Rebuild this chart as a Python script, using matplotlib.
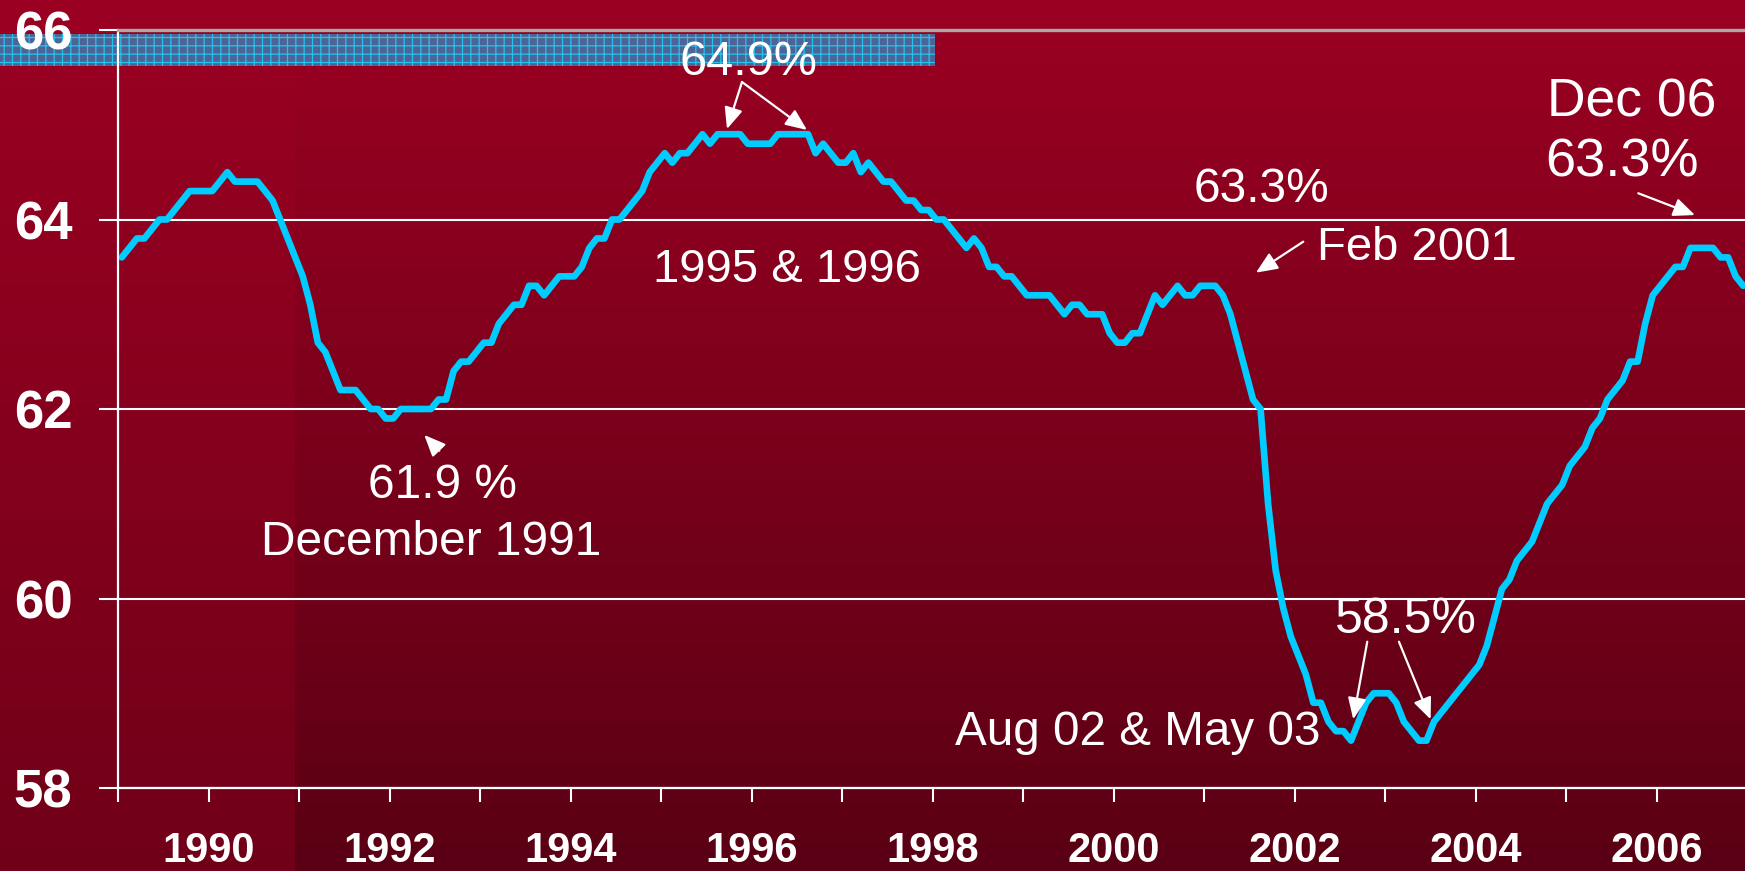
import numpy as np
import matplotlib
matplotlib.use("Agg")
import matplotlib.pyplot as plt
from matplotlib.patches import Rectangle

plt.rcParams['font.family'] = ['Liberation Sans', 'DejaVu Sans']
plt.rcParams['hatch.linewidth'] = 0.9

# monthly values, Jan..Dec of each year
y1989 = [63.6, 63.7, 63.8, 63.8, 63.9, 64.0, 64.0, 64.1, 64.2, 64.3, 64.3, 64.3]
y1990 = [64.3, 64.4, 64.5, 64.4, 64.4, 64.4, 64.4, 64.3, 64.2, 64.0, 63.8, 63.6]
y1991 = [63.4, 63.1, 62.7, 62.6, 62.4, 62.2, 62.2, 62.2, 62.1, 62.0, 62.0, 61.9]
y1992 = [61.9, 62.0, 62.0, 62.0, 62.0, 62.0, 62.1, 62.1, 62.4, 62.5, 62.5, 62.6]
y1993 = [62.7, 62.7, 62.9, 63.0, 63.1, 63.1, 63.3, 63.3, 63.2, 63.3, 63.4, 63.4]
y1994 = [63.4, 63.5, 63.7, 63.8, 63.8, 64.0, 64.0, 64.1, 64.2, 64.3, 64.5, 64.6]
y1995 = [64.7, 64.6, 64.7, 64.7, 64.8, 64.9, 64.8, 64.9, 64.9, 64.9, 64.9, 64.8]
y1996 = [64.8, 64.8, 64.8, 64.9, 64.9, 64.9, 64.9, 64.9, 64.7, 64.8, 64.7, 64.6]
y1997 = [64.6, 64.7, 64.5, 64.6, 64.5, 64.4, 64.4, 64.3, 64.2, 64.2, 64.1, 64.1]
y1998 = [64.0, 64.0, 63.9, 63.8, 63.7, 63.8, 63.7, 63.5, 63.5, 63.4, 63.4, 63.3]
y1999 = [63.2, 63.2, 63.2, 63.2, 63.1, 63.0, 63.1, 63.1, 63.0, 63.0, 63.0, 62.8]
y2000 = [62.7, 62.7, 62.8, 62.8, 63.0, 63.2, 63.1, 63.2, 63.3, 63.2, 63.2, 63.3]
y2001 = [63.3, 63.3, 63.2, 63.0, 62.7, 62.4, 62.1, 62.0, 61.0, 60.3, 59.9, 59.6]
y2002 = [59.4, 59.2, 58.9, 58.9, 58.7, 58.6, 58.6, 58.5, 58.7, 58.9, 59.0, 59.0]
y2003 = [59.0, 58.9, 58.7, 58.6, 58.5, 58.5, 58.7, 58.8, 58.9, 59.0, 59.1, 59.2]
y2004 = [59.3, 59.5, 59.8, 60.1, 60.2, 60.4, 60.5, 60.6, 60.8, 61.0, 61.1, 61.2]
y2005 = [61.4, 61.5, 61.6, 61.8, 61.9, 62.1, 62.2, 62.3, 62.5, 62.5, 62.9, 63.2]
y2006 = [63.3, 63.4, 63.5, 63.5, 63.7, 63.7, 63.7, 63.7, 63.6, 63.6, 63.4, 63.3]

start_year = 1989
year_ticks = list(range(1989, 2008))
year_labels = [str(y) if y % 2 == 0 else '' for y in year_ticks]
y_ticks = [58, 60, 62, 64, 66]

values = np.array(y1989 + y1990 + y1991 + y1992 + y1993 + y1994 + y1995 + y1996 + y1997
                  + y1998 + y1999 + y2000 + y2001 + y2002 + y2003 + y2004 + y2005 + y2006)
months = start_year + (np.arange(len(values)) + 0.5) / 12

W, H = 1745, 871
fig = plt.figure(figsize=(W / 100, H / 100), dpi=100)

# background gradient (left strip slightly lighter at the bottom)
t = np.linspace(0, 1, H)[:, None]
top = np.array([155, 0, 34]) / 255
bot_r = np.array([90, 0, 20]) / 255
bot_l = np.array([112, 0, 24]) / 255
img = np.empty((H, W, 3), dtype=np.float32)
img[:, 295:, :] = (top + (bot_r - top) * t)[:, None, :]
img[:, :295, :] = (top + (bot_l - top) * t)[:, None, :]
bg = fig.add_axes([0, 0, 1, 1], zorder=-2)
bg.imshow(img, aspect='auto', extent=[0, 1, 0, 1], interpolation='nearest')
bg.axis('off')

fig.patches.append(Rectangle((0, 1 - 66 / H), 935 / W, 32 / H, transform=fig.transFigure,
                             facecolor='#4d6496', edgecolor='#22c4ee', lw=0,
                             hatch='++', zorder=-1))

ax = fig.add_axes([118 / W, 83 / H, 1629 / W, 758 / H], zorder=0)
ax.set_facecolor('none')
ax.plot(months, values, color='#00ccff', lw=4.8, solid_joinstyle='round', solid_capstyle='round')

ax.set_xlim(1989, 2007)
ax.set_ylim(58, 66)
ax.set_xticks(year_ticks)
ax.set_xticklabels(year_labels, fontsize=30, fontweight='bold', color='white')
ax.set_yticks(y_ticks)
ax.set_yticklabels([str(v) for v in y_ticks], fontsize=38, fontweight='bold', color='white')
ax.tick_params(axis='x', direction='out', length=10, width=1.5, colors='white', pad=21)
ax.tick_params(axis='y', direction='out', length=13.7, width=1.5, colors='white', pad=19)
ax.set_axisbelow(True)
ax.yaxis.grid(True, color='white', lw=1.5)
for s in ['left', 'bottom']:
    ax.spines[s].set_color('white')
    ax.spines[s].set_linewidth(1.6)
ax.spines['right'].set_visible(False)
ax.spines['top'].set_color('#a8a8a8')
ax.spines['top'].set_linewidth(2.4)

txt = dict(color='white', va='baseline')
ax.text(1995.972, 65.525, '64.9%', ha='center', fontsize=35, **txt)
ax.text(1996.389, 63.340, '1995 & 1996', ha='center', fontsize=34, **txt)
ax.text(1992.591, 61.061, '61.9 %', ha='center', fontsize=34.5, **txt)
ax.text(1992.466, 60.459, 'December 1991', ha='center', fontsize=34.5, **txt)
ax.text(2001.630, 64.185, '63.3%', ha='center', fontsize=34.5, **txt)
ax.text(2002.249, 63.573, 'Feb 2001', ha='left', fontsize=34, **txt)
ax.text(2005.729, 65.092, 'Dec 06', ha='center', fontsize=38.5, **txt)
ax.text(2005.619, 64.459, '63.3%', ha='center', fontsize=39, **txt)
ax.text(2003.232, 59.636, '58.5%', ha='center', fontsize=36, **txt)
ax.text(2002.282, 58.454, 'Aug 02 & May 03', ha='right', fontsize=34.3, **txt)

arrow = dict(arrowstyle='-|>,head_length=0.65,head_width=0.28', color='white', lw=1.6,
             shrinkA=0, shrinkB=0, mutation_scale=20)
arrows = [
    ((1995.895, 65.451), (1995.729, 64.955)),
    ((1995.895, 65.451), (1996.613, 64.945)),
    ((1992.550, 61.560), (1992.384, 61.726)),
    ((2002.097, 63.766), (2001.574, 63.439)),
    ((2005.799, 64.277), (2006.425, 64.047)),
    ((2002.804, 59.544), (2002.649, 58.725)),
    ((2003.154, 59.544), (2003.504, 58.725)),
]
for tail, tip in arrows:
    ax.annotate('', xy=tip, xytext=tail, arrowprops=arrow)

fig.savefig('out.png', dpi=100)
